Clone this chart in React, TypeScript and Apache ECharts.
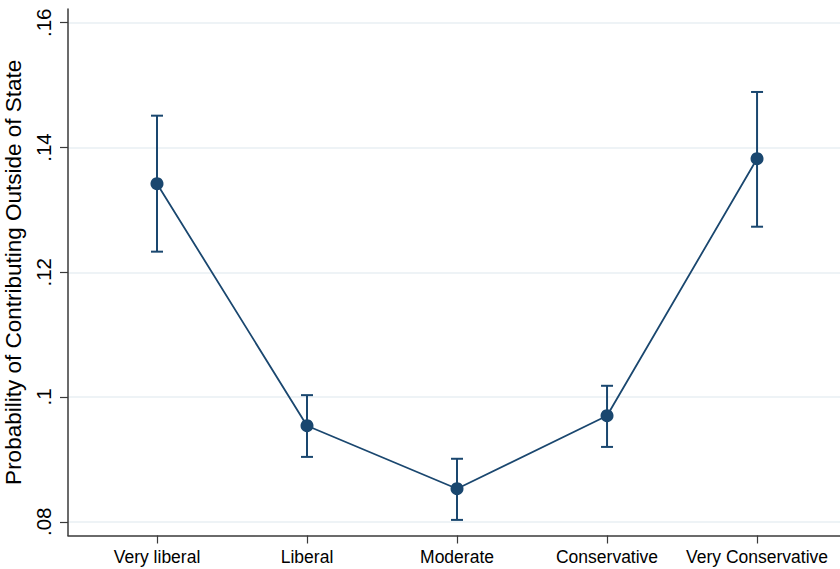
import React, { useEffect, useRef } from "react";
import * as echarts from "echarts";

const categories = ["Very liberal", "Liberal", "Moderate", "Conservative", "Very Conservative"];
const estimates = [0.1342, 0.0954, 0.0853, 0.0970, 0.1382];
const ciUpper = [0.1451, 0.1003, 0.0901, 0.1018, 0.1489];
const ciLower = [0.1233, 0.0904, 0.0803, 0.0920, 0.1273];
const yTicks = [0.08, 0.1, 0.12, 0.14, 0.16];
const yTickLabels = [".08", ".1", ".12", ".14", ".16"];

const NAVY = "#1a476f";

export default function App() {
  const ref = useRef<HTMLDivElement>(null);
  useEffect(() => {
    if (!ref.current) return;
    const chart = echarts.init(ref.current, null, { renderer: "svg" });
    const positions = categories.map((_, i) => i + 1);
    chart.setOption({
      animation: false,
      backgroundColor: "#ffffff",
      grid: { left: 68, right: 0, top: 9, bottom: 33.5, containLabel: false, outerBoundsMode: "none" },
      xAxis: {
        type: "value",
        min: 0.4067,
        max: 5.553,
        axisLine: { show: true, lineStyle: { color: "#3a3a3a", width: 1.5 } },
        axisTick: { show: true, length: 8, customValues: positions, lineStyle: { color: "#3a3a3a", width: 1.2 } },
        axisLabel: {
          customValues: positions,
          formatter: (v: number) => categories[Math.round(v) - 1] ?? "",
          fontFamily: "Liberation Sans, Arial, sans-serif",
          fontSize: 17.5,
          color: "#000",
          margin: 12,
        },
        splitLine: { show: false },
      },
      yAxis: {
        type: "value",
        min: 0.0778,
        max: 0.1622,
        name: "Probability of Contributing Outside of State",
        nameLocation: "middle",
        nameGap: 42,
        nameTextStyle: { fontFamily: "Liberation Sans, Arial, sans-serif", fontSize: 22.5, color: "#000" },
        axisLine: { show: true, lineStyle: { color: "#3a3a3a", width: 1.5 } },
        axisTick: { show: true, length: 8, customValues: yTicks, lineStyle: { color: "#3a3a3a", width: 1.2 } },
        axisLabel: {
          customValues: yTicks,
          rotate: 90,
          formatter: (v: number) => {
            const idx = yTicks.findIndex((t) => Math.abs(t - v) < 1e-6);
            return idx >= 0 ? yTickLabels[idx] : "";
          },
          fontFamily: "Liberation Sans, Arial, sans-serif",
          fontSize: 20.5,
          color: "#000",
          margin: 14,
        },
        splitLine: { show: true, lineStyle: { color: "#e9eff3", width: 1.5 } },
      },
      series: [
        {
          type: "custom",
          data: positions.map((p, i) => [p, ciLower[i], ciUpper[i]]),
          renderItem: (params: any, api: any) => {
            const x = api.value(0);
            const lo = api.coord([x, api.value(1)]);
            const hi = api.coord([x, api.value(2)]);
            const hw = 6;
            const style = { stroke: NAVY, lineWidth: 2 };
            return {
              type: "group",
              children: [
                { type: "line", shape: { x1: lo[0], y1: lo[1], x2: hi[0], y2: hi[1] }, style },
                { type: "line", shape: { x1: lo[0] - hw, y1: lo[1], x2: lo[0] + hw, y2: lo[1] }, style },
                { type: "line", shape: { x1: hi[0] - hw, y1: hi[1], x2: hi[0] + hw, y2: hi[1] }, style },
              ],
            };
          },
          z: 2,
        },
        {
          type: "line",
          data: positions.map((p, i) => [p, estimates[i]]),
          symbol: "circle",
          symbolSize: 13,
          itemStyle: { color: NAVY },
          lineStyle: { color: NAVY, width: 1.8 },
          z: 3,
        },
      ],
    });
    return () => chart.dispose();
  }, []);
  return <div ref={ref} style={{ width: 840, height: 569, position: "absolute", left: 0, top: 0 }} />;
}
